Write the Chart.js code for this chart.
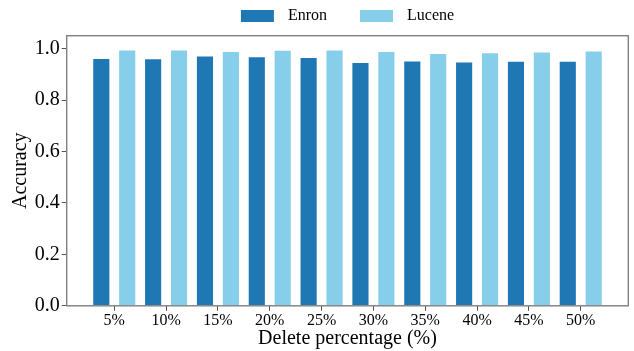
<!DOCTYPE html>
<html>
<head>
<meta charset="utf-8">
<script src="https://cdn.jsdelivr.net/npm/chart.js@4"></script>
<style>
  html, body { margin: 0; padding: 0; background: #ffffff; }
  #wrap { width: 634px; height: 351px; }
</style>
</head>
<body>
<div id="wrap"><canvas id="chart" width="634" height="351"></canvas></div>
<script>
// Accuracy after deleting a share of the data, per dataset
const categories = ['5%', '10%', '15%', '20%', '25%', '30%', '35%', '40%', '45%', '50%'];
const enron  = [0.963, 0.962, 0.973, 0.970, 0.967, 0.948, 0.954, 0.950, 0.953, 0.953];
const lucene = [0.996, 0.996, 0.991, 0.995, 0.996, 0.991, 0.983, 0.986, 0.989, 0.992];
const yTickValues = [0.0, 0.2, 0.4, 0.6, 0.8, 1.0];

const SERIF = "'Liberation Serif', 'Times New Roman', serif";
const ENRON_COLOR = '#1f77b4';
const LUCENE_COLOR = '#87ceeb';

// Frame around the plot area (all four sides)
const framePlugin = {
  id: 'frame',
  afterDatasetsDraw(chart) {
    const { ctx, chartArea: a } = chart;
    ctx.save();
    ctx.strokeStyle = '#7f7f7f';
    ctx.lineWidth = 1.4;
    ctx.strokeRect(a.left, a.top, a.right - a.left, a.bottom - a.top);
    ctx.restore();
  }
};

// Legend row above the plot, centred on the plot area
const topLegendPlugin = {
  id: 'topLegend',
  afterDraw(chart) {
    const { ctx, chartArea: a } = chart;
    const boxW = 33, boxH = 12, textGap = 14, itemGap = 33, cy = 16;
    ctx.save();
    ctx.font = '16px ' + SERIF;
    const items = chart.data.datasets.map(ds => ({
      label: ds.label,
      color: ds.backgroundColor,
      w: ctx.measureText(ds.label).width
    }));
    const total = items.reduce((s, it) => s + boxW + textGap + it.w, 0) + itemGap * (items.length - 1);
    let x = (a.left + a.right) / 2 - total / 2;
    ctx.textBaseline = 'middle';
    ctx.textAlign = 'left';
    items.forEach(it => {
      ctx.fillStyle = it.color;
      ctx.fillRect(x, cy - boxH / 2, boxW, boxH);
      ctx.fillStyle = '#000000';
      ctx.fillText(it.label, x + boxW + textGap, cy);
      x += boxW + textGap + it.w + itemGap;
    });
    ctx.restore();
  }
};

new Chart(document.getElementById('chart'), {
  type: 'bar',
  data: {
    datasets: [
      {
        label: 'Enron',
        data: categories.map((c, i) => ({ x: i, y: enron[i] })),
        backgroundColor: ENRON_COLOR,
        borderColor: 'rgba(255,255,255,0.45)',
        borderWidth: 1
      },
      {
        label: 'Lucene',
        data: categories.map((c, i) => ({ x: i, y: lucene[i] })),
        backgroundColor: LUCENE_COLOR,
        borderColor: 'rgba(255,255,255,0.45)',
        borderWidth: 1
      }
    ]
  },
  options: {
    responsive: false,
    animation: false,
    categoryPercentage: 1.0,
    barPercentage: 0.7,
    layout: { padding: { top: 35.7, right: 5.7, left: 0, bottom: 0 } },
    plugins: {
      legend: { display: false },
      tooltip: { enabled: false }
    },
    scales: {
      x: {
        type: 'linear',
        offset: false,
        min: -0.9175,
        max: 9.9175,
        afterFit(scale) { scale.height = 45.2; },
        afterBuildTicks(scale) {
          scale.ticks = categories.map((c, i) => ({ value: i }));
        },
        ticks: {
          autoSkip: false,
          maxRotation: 0,
          padding: 0,
          color: '#000000',
          font: { family: SERIF, size: 16 },
          callback: (v) => categories[Math.round(v)] ?? ''
        },
        grid: {
          offset: false,
          drawOnChartArea: false,
          drawTicks: true,
          tickLength: 5,
          tickColor: '#555555'
        },
        border: { display: false },
        title: {
          display: true,
          text: 'Delete percentage (%)',
          color: '#000000',
          font: { family: SERIF, size: 20 },
          padding: { top: 0, bottom: 0 }
        }
      },
      y: {
        min: 0,
        max: 1.05,
        afterFit(scale) { scale.width = 66.7; },
        afterBuildTicks(scale) {
          scale.ticks = yTickValues.map(v => ({ value: v }));
        },
        ticks: {
          padding: 2,
          color: '#000000',
          font: { family: SERIF, size: 20 },
          callback: (v) => Number(v).toFixed(1)
        },
        grid: {
          drawOnChartArea: false,
          drawTicks: true,
          tickLength: 5,
          tickColor: '#555555'
        },
        border: { display: false },
        title: {
          display: true,
          text: 'Accuracy',
          color: '#000000',
          font: { family: SERIF, size: 20 },
          padding: { top: 9, bottom: 0 }
        }
      }
    }
  },
  plugins: [framePlugin, topLegendPlugin]
});
</script>
</body>
</html>
